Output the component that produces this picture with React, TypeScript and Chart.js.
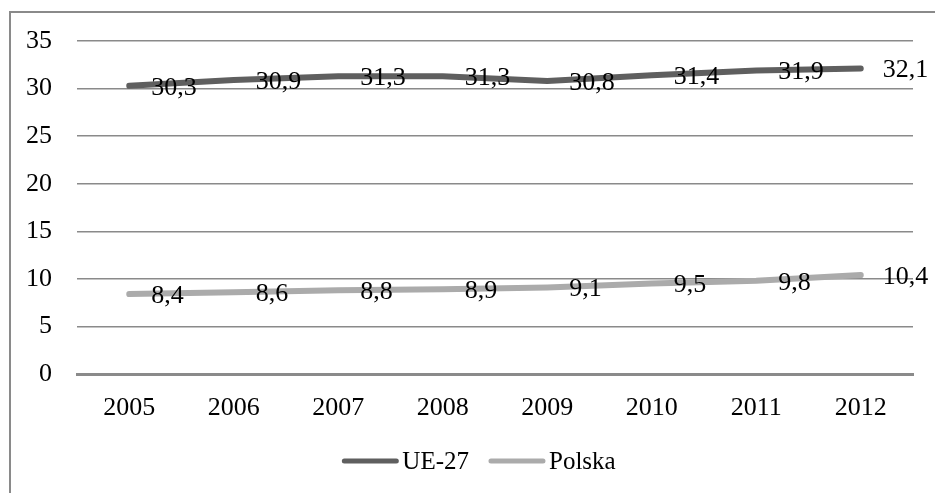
import React, { useEffect, useRef } from "react";
import { Chart, registerables } from "chart.js";

Chart.register(...registerables);

const years = ["2005", "2006", "2007", "2008", "2009", "2010", "2011", "2012"];
const ue27 = [30.3, 30.9, 31.3, 31.3, 30.8, 31.4, 31.9, 32.1];
const polska = [8.4, 8.6, 8.8, 8.9, 9.1, 9.5, 9.8, 10.4];
const seriesNames = ["UE-27", "Polska"];
const seriesColors = ["#5f5f5f", "#ababab"];

const FONT = '"Liberation Serif", "Times New Roman", serif';

const framePlugin = {
  id: "frame",
  beforeDraw(chart: any) {
    const ctx = chart.ctx;
    ctx.save();
    ctx.fillStyle = "#ffffff";
    ctx.fillRect(0, 0, chart.width, chart.height);
    ctx.strokeStyle = "#8a8a8a";
    ctx.lineWidth = 2;
    ctx.strokeRect(10, 12, chart.width + 50, chart.height + 50);
    ctx.restore();
  },
};

const labelsPlugin = {
  id: "valueLabels",
  afterDatasetsDraw(chart: any) {
    const ctx = chart.ctx;
    ctx.save();
    ctx.font = `26px ${FONT}`;
    ctx.fillStyle = "#000000";
    ctx.textAlign = "left";
    ctx.textBaseline = "middle";
    chart.data.datasets.forEach((ds: any, i: number) => {
      const meta = chart.getDatasetMeta(i);
      meta.data.forEach((pt: any, j: number) => {
        const v = ds.data[j] as number;
        ctx.fillText(v.toFixed(1).replace(".", ","), pt.x + 22, pt.y + 2);
      });
    });
    ctx.restore();
  },
};

const legendPlugin = {
  id: "customLegend",
  afterDraw(chart: any) {
    const ctx = chart.ctx;
    ctx.save();
    ctx.font = `25px ${FONT}`;
    const lineLen = 56;
    const gapText = 4;
    const gapItem = 20;
    const widths = seriesNames.map((n) => ctx.measureText(n).width);
    const total =
      widths.reduce((a, w) => a + lineLen + gapText + w, 0) + gapItem * (seriesNames.length - 1);
    let x = 479 - total / 2;
    const y = 461;
    seriesNames.forEach((n, i) => {
      ctx.strokeStyle = seriesColors[i];
      ctx.lineWidth = 5;
      ctx.lineCap = "round";
      ctx.beginPath();
      ctx.moveTo(x + 2, y);
      ctx.lineTo(x + lineLen - 2, y);
      ctx.stroke();
      ctx.fillStyle = "#000000";
      ctx.textAlign = "left";
      ctx.textBaseline = "middle";
      ctx.fillText(n, x + lineLen + gapText, y + 1);
      x += lineLen + gapText + widths[i] + gapItem;
    });
    ctx.restore();
  },
};

export default function App() {
  const ref = useRef<HTMLCanvasElement | null>(null);
  useEffect(() => {
    if (!ref.current) return;
    const chart = new Chart(ref.current, {
      type: "line",
      data: {
        labels: years,
        datasets: [
          {
            label: seriesNames[0],
            data: ue27,
            borderColor: seriesColors[0],
            backgroundColor: seriesColors[0],
            borderWidth: 6,
            borderCapStyle: "round",
            borderJoinStyle: "round",
            pointRadius: 0,
            tension: 0,
          },
          {
            label: seriesNames[1],
            data: polska,
            borderColor: seriesColors[1],
            backgroundColor: seriesColors[1],
            borderWidth: 6,
            borderCapStyle: "round",
            borderJoinStyle: "round",
            pointRadius: 0,
            tension: 0,
          },
        ],
      },
      options: {
        animation: false,
        responsive: false,
        maintainAspectRatio: false,
        layout: { padding: { top: 41, right: 22, left: 0, bottom: 0 } },
        plugins: {
          legend: { display: false },
          tooltip: { enabled: false },
        },
        scales: {
          x: {
            offset: true,
            grid: { display: false, offset: true },
            border: { display: true, color: "#8a8a8a", width: 3 },
            ticks: {
              color: "#000000",
              font: { family: FONT, size: 26 },
              padding: 11,
              maxRotation: 0,
            },
            afterFit(scale: any) {
              scale.height = 119;
            },
          },
          y: {
            min: 0,
            max: 35,
            ticks: {
              stepSize: 5,
              color: "#000000",
              font: { family: FONT, size: 26 },
              padding: 25,
            },
            grid: { color: "#8a8a8a", lineWidth: 1.5, drawTicks: false },
            border: { display: false },
            afterFit(scale: any) {
              scale.width = 77;
            },
          },
        },
      },
      plugins: [framePlugin, labelsPlugin, legendPlugin],
    });
    return () => chart.destroy();
  }, []);
  return (
    <div style={{ position: "fixed", left: 0, top: 0, width: 935, height: 493 }}>
      <canvas ref={ref} width={935} height={493} style={{ width: 935, height: 493 }} />
    </div>
  );
}
